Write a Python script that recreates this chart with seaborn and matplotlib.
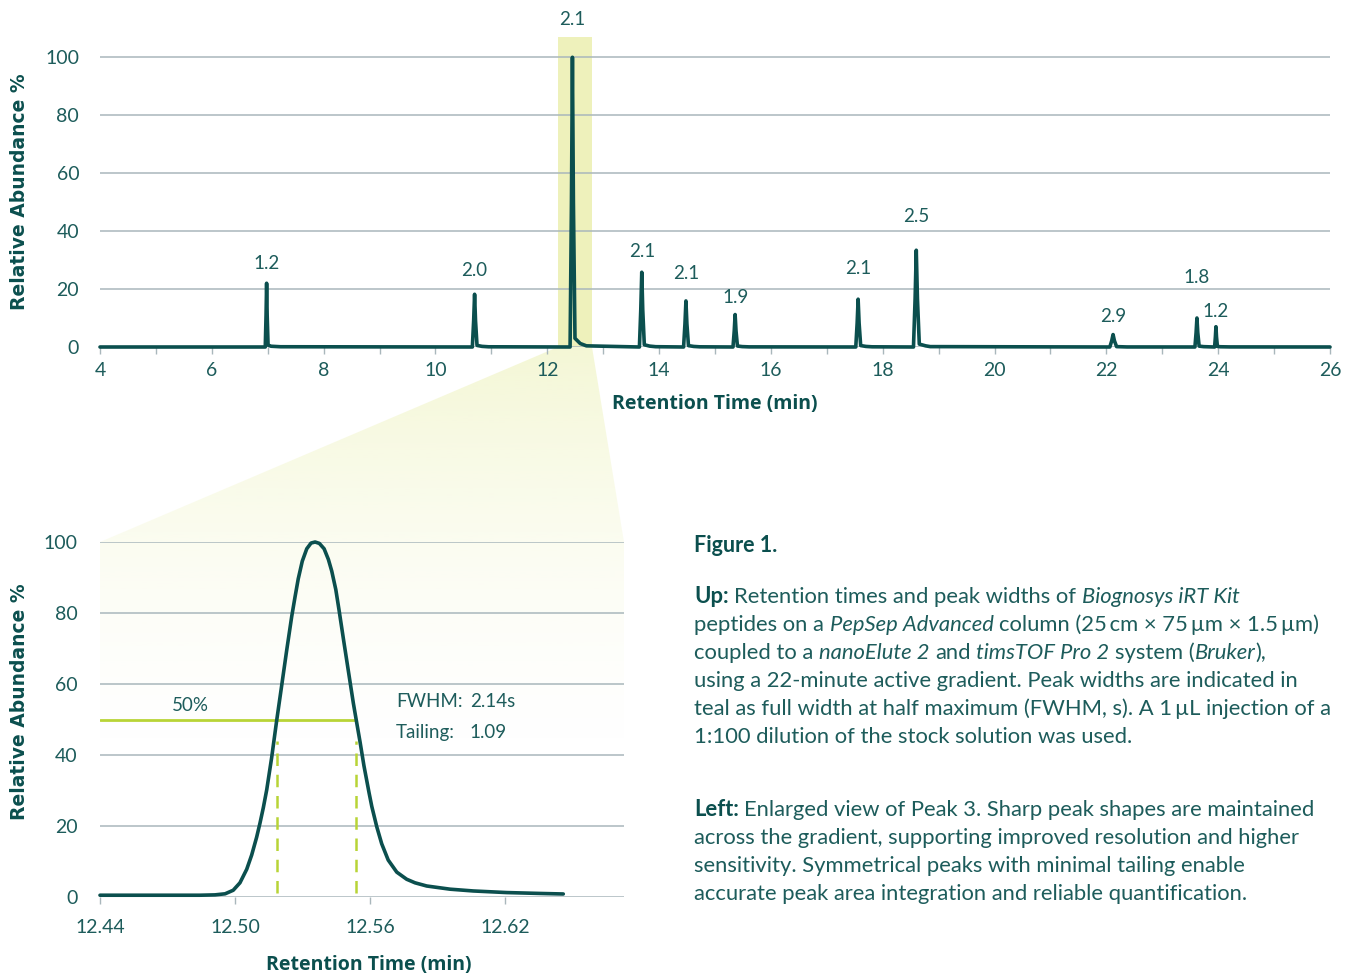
import numpy as np
import matplotlib.pyplot as plt
import seaborn as sns
from matplotlib.patches import Polygon

# ---- peaks of the full run (top panel)
peak_rt = [6.98, 10.70, 12.45, 13.69, 14.48, 15.36, 17.56, 18.60, 22.12, 23.62, 23.96]
peak_height = [22.0, 18.2, 100.0, 25.8, 15.9, 11.2, 16.5, 33.4, 4.3, 10.0, 7.0]
peak_fwhm = [1.2, 2.0, 2.1, 2.1, 2.1, 1.9, 2.1, 2.5, 2.9, 1.8, 1.2]
label_pad = [14, 17, 27, 15, 20, 12, 22, 24, 13, 29, 11]  # points above apex

# ---- enlarged peak 3 (bottom panel)
zoom_rt = [12.4400, 12.4844, 12.4911, 12.4956, 12.4992, 12.5022, 12.5052, 12.5074,
           12.5096, 12.5111, 12.5126, 12.5141, 12.5163, 12.5185, 12.5208, 12.5230,
           12.5252, 12.5267, 12.5281, 12.5299, 12.5319, 12.5338, 12.5356, 12.5375,
           12.5396, 12.5415, 12.5430, 12.5448, 12.5462, 12.5484, 12.5504, 12.5526,
           12.5539, 12.5556, 12.5573, 12.5596, 12.5608, 12.5630, 12.5652, 12.5681,
           12.5719, 12.5763, 12.5800, 12.5852, 12.5956, 12.6059, 12.6207, 12.6356,
           12.6459]
zoom_abund = [0.5, 0.5, 0.6, 0.9, 1.9, 4.0, 7.8, 11.8,
              16.8, 20.8, 25.2, 30.2, 39.3, 49.6, 59.8, 69.6,
              79.0, 84.6, 89.6, 94.6, 98.1, 99.7, 100.0, 99.6,
              98.1, 95.1, 91.8, 86.6, 81.0, 71.8, 63.6, 54.6,
              49.8, 43.6, 37.0, 29.3, 25.5, 19.8, 15.0, 10.4,
              7.0, 5.0, 4.0, 3.1, 2.2, 1.7, 1.25, 1.0,
              0.85]
half_left, half_right = 12.5185, 12.5539
fwhm_text = "2.14s"
tailing_text = "1.09"
zoom_ticks = [12.44, 12.50, 12.56, 12.62]

caption = [
    [("Figure 1.", "b")],
    [("Up:", "b"), (" Retention times and peak widths of", "r"), (" Biognosys iRT Kit", "i")],
    [("peptides on a", "r"), (" PepSep Advanced", "i"), (" column (25\u2009cm \u00d7 75\u2009\u00b5m \u00d7 1.5\u2009\u00b5m)", "r")],
    [("coupled to a", "r"), (" nanoElute 2", "i"), (" and", "r"), (" timsTOF Pro 2", "i"),
     (" system (", "r"), ("Bruker", "i"), ("),", "r")],
    [("using a 22-minute active gradient. Peak widths are indicated in", "r")],
    [("teal as full width at half maximum (FWHM, s). A 1\u2009\u00b5L injection of a", "r")],
    [("1:100 dilution of the stock solution was used.", "r")],
    [("Left:", "b"), (" Enlarged view of Peak 3. Sharp peak shapes are maintained", "r")],
    [("across the gradient, supporting improved resolution and higher", "r")],
    [("sensitivity. Symmetrical peaks with minimal tailing enable", "r")],
    [("accurate peak area integration and reliable quantification.", "r")],
]
caption_baselines = [552, 603, 631, 659, 687, 715, 743, 816, 844, 872, 900]

# ---- style
sns.set_style("white")
plt.rcParams["font.family"] = ["Lato", "DejaVu Sans"]
TEAL = "#0b4f4e"
TXT = "#1d5c5b"
GRID = "#a9b7bc"
HL = "#eef1bb"
LIME = "#b8d436"

W, H = 1347, 973
fig = plt.figure(figsize=(W / 100, H / 100), dpi=100)


def px_axes(l, t, r, b):
    return fig.add_axes([l / W, 1 - b / H, (r - l) / W, (b - t) / H])


ax1 = px_axes(100, 37, 1330, 347)
ax2 = px_axes(100, 542, 624, 897)
bg = fig.add_axes([0, 0, 1, 1], zorder=-5)
bg.set_xlim(0, W)
bg.set_ylim(0, H)
bg.axis("off")

# ---- top trace built from the peak table
trace_t, trace_y = [4.0], [0.0]
for rt, h, w in zip(peak_rt, peak_height, peak_fwhm):
    hw = w / 120.0
    trace_t += [rt - 2.4 * hw, rt - hw, rt, rt + hw, rt + 2.6 * hw, rt + 8 * hw, rt + 0.25]
    trace_y += [0.0, h / 2, h, h / 2, 0.03 * h, 0.012 * h, 0.004 * h]
trace_t.append(26.0)
trace_y.append(0.0)

for ax in (ax1, ax2):
    ax.set_facecolor("none")
    sns.despine(ax=ax, left=True, bottom=True)
    ax.set_axisbelow(True)
    ax.grid(axis="y", color=GRID, linewidth=1.1)
    ax.grid(axis="x", visible=False)
    ax.set_yticks(range(0, 101, 20))
    ax.tick_params(axis="x", length=5, width=1, color=GRID, labelsize=14,
                   labelcolor=TXT, direction="out", bottom=True)
    ax.tick_params(axis="x", which="minor", length=5, width=1, color=GRID, bottom=True)
    ax.tick_params(axis="y", length=0, labelsize=14, labelcolor=TXT)

ax1.axvspan(12.19, 12.80, color=HL, zorder=0.1, lw=0)
sns.lineplot(x=trace_t, y=trace_y, ax=ax1, color=TEAL, linewidth=2.6,
             estimator=None, sort=False, clip_on=False, zorder=3)
ax1.set_xlim(4, 26)
ax1.set_ylim(0, 107)
ax1.set_xticks(range(4, 27, 2))
ax1.set_xticks(range(5, 26, 2), minor=True)
ax1.tick_params(axis="x", pad=6)
ax1.tick_params(axis="y", pad=15)
for rt, h, w, p in zip(peak_rt, peak_height, peak_fwhm, label_pad):
    ax1.annotate(f"{w:.1f}", (rt, h), xytext=(0, p), textcoords="offset points",
                 ha="center", va="center", fontsize=13.5, color=TXT, annotation_clip=False)
ax1.set_xlabel("Retention Time (min)", fontsize=14, fontweight="bold", color=TEAL,
               family="Open Sans")
ax1.xaxis.set_label_coords(0.5, -0.152)
ax1.set_ylabel("Relative Abundance %", fontsize=13.5, fontweight="bold", color=TEAL,
               family="DejaVu Sans")
ax1.yaxis.set_label_coords(-0.058, 0.5)

# ---- bottom panel
ax2.set_xlim(12.44, 12.44 + 524 / 2250)
ax2.set_ylim(0, 100)
ax2.plot([12.44, half_right], [50, 50], color=LIME, linewidth=2, zorder=2)
for xv in (half_left, half_right):
    ax2.plot([xv, xv], [1, 44], color=LIME, linewidth=1.8, dashes=(5, 3.5), zorder=2)
sns.lineplot(x=zoom_rt, y=zoom_abund, ax=ax2, color=TEAL, linewidth=2.6,
             estimator=None, sort=False, clip_on=False, zorder=3,
             solid_joinstyle="round", solid_capstyle="round")
ax2.set_xticks(zoom_ticks)
ax2.set_xticklabels([f"{v:.2f}" for v in zoom_ticks])
ax2.tick_params(axis="x", pad=11)
ax2.tick_params(axis="y", pad=16)
ax2.text(12.48, 54, "50%", fontsize=13.5, color=TXT, ha="center", va="center")
ax2.text(12.5716, 55, "FWHM:", fontsize=13.5, color=TXT, va="center")
ax2.text(12.6044, 55, fwhm_text, fontsize=13.5, color=TXT, va="center")
ax2.text(12.5716, 46.3, "Tailing:", fontsize=13.5, color=TXT, va="center")
ax2.text(12.6044, 46.3, tailing_text, fontsize=13.5, color=TXT, va="center")
ax2.set_xlabel("Retention Time (min)", fontsize=14, fontweight="bold", color=TEAL,
               family="Open Sans")
ax2.xaxis.set_label_coords(0.513, -0.163)
ax2.set_ylabel("Relative Abundance %", fontsize=13.5, fontweight="bold", color=TEAL,
               family="DejaVu Sans")
ax2.yaxis.set_label_coords(-0.1355, 0.55)

# ---- zoom wedge with fading fill
fig.canvas.draw()
to_bg = bg.transData.inverted()
a = to_bg.transform(ax1.transData.transform((12.19, 0)))
b = to_bg.transform(ax1.transData.transform((12.80, 0)))
c = to_bg.transform(ax2.transAxes.transform((1, 1)))
d = to_bg.transform(ax2.transAxes.transform((0, 1)))
e = to_bg.transform(ax2.transAxes.transform((1, 0)))
f = to_bg.transform(ax2.transAxes.transform((0, 0)))
poly = Polygon([a, b, c, e, f, d], closed=True, facecolor="none", edgecolor="none")
bg.add_patch(poly)
n = 200
grad = np.zeros((n, 1, 4))
grad[..., :3] = np.array([0xe8, 0xee, 0xa6]) / 255
grad[:, 0, 3] = np.linspace(0.62, 0.0, n) ** 1.6
y_top, y_end = a[1], H - 760
im = bg.imshow(grad, extent=(0, W, y_end, y_top), aspect="auto", origin="upper",
               interpolation="bilinear", zorder=0)
im.set_clip_path(poly)
bg.set_xlim(0, W)
bg.set_ylim(0, H)

# ---- caption with mixed styles
renderer = fig.canvas.get_renderer()
styles = {"b": dict(fontweight="bold", color=TEAL),
          "r": dict(color=TXT),
          "i": dict(fontstyle="italic", color=TXT)}


def width_px(s, size, **kw):
    t = fig.text(0, 0, s, fontsize=size, **kw)
    wd = t.get_window_extent(renderer).width
    t.remove()
    return wd


CAP = 15.8
space_w = width_px("a a", CAP) - width_px("aa", CAP)
for runs, base in zip(caption, caption_baselines):
    x = 694.0
    for txt, st in runs:
        size = 15.5 if txt.startswith("Figure") else CAP
        if txt.startswith(" "):
            x += space_w
            txt = txt[1:]
        t = fig.text(x / W, 1 - base / H, txt, fontsize=size, va="baseline", **styles[st])
        x += t.get_window_extent(renderer).width

fig.savefig("out.png", dpi=100)
